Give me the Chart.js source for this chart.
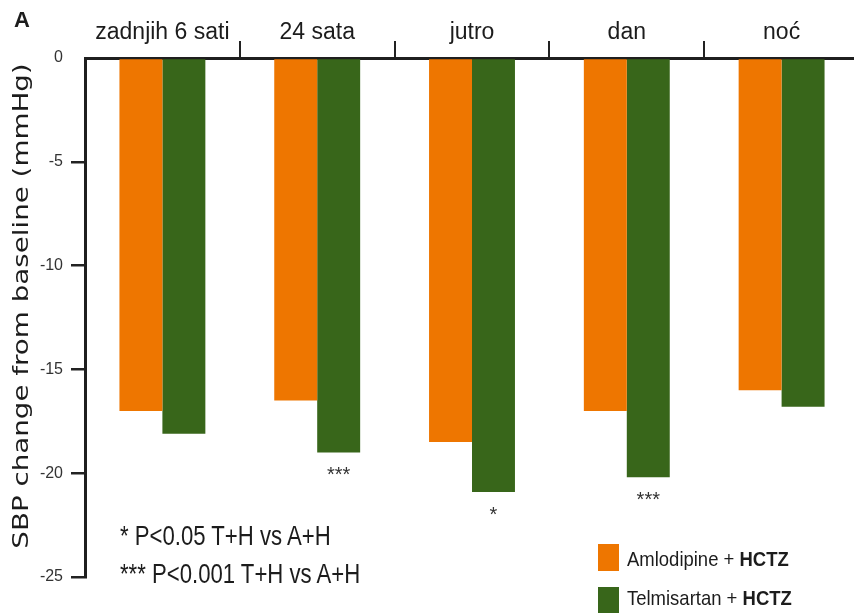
<!DOCTYPE html>
<html>
<head>
<meta charset="utf-8">
<script src="https://cdn.jsdelivr.net/npm/chart.js@4.4.1/dist/chart.umd.min.js"></script>
<style>
  html, body { margin: 0; padding: 0; background: #fff; }
  body { width: 854px; height: 613px; overflow: hidden; position: relative; }
  #wrap { position: absolute; left: 0; top: 0; width: 870px; height: 613px; }
  .txt { position: absolute; white-space: nowrap; line-height: 1; color: #1c1c1c;
         font-family: 'Liberation Sans', Arial, sans-serif; }
  .squeeze { transform-origin: 0 50%; }
  #panel { left: 14px; top: 9px; font-weight: bold; font-size: 22px; }
  #ytitle { left: 21px; top: 306px; font-size: 22px; font-family: 'DejaVu Sans', sans-serif;
            transform: translate(-50%, -50%) rotate(-90deg) scaleX(1.26); }
  .note { left: 120px; font-size: 27px; transform: scaleX(0.82); }
  .leg-box { position: absolute; left: 598px; width: 21px; height: 27px; }
  .leg-txt { left: 627px; font-size: 21px; transform: scaleX(0.88); }
  .leg-txt b { font-weight: bold; }
</style>
</head>
<body>
<div id="wrap"><canvas id="chart" width="870" height="613"></canvas></div>
<div class="txt" id="panel">A</div>
<div class="txt" id="ytitle">SBP change from baseline (mmHg)</div>
<div id="notes"></div>
<div id="legend"></div>

<script>
// ─── podaci ──────────────────────────────────────────────────────────
const categories = ['zadnjih 6 sati', '24 sata', 'jutro', 'dan', 'noć'];
const amlodipine = [-17, -16.5, -18.5, -17, -16];
const telmisartan = [-18.1, -19, -20.9, -20.2, -16.8];
const significance = ['', '***', '*', '***', ''];
const seriesLabels = ['Amlodipine + HCTZ', 'Telmisartan + HCTZ'];
const seriesColors = ['#EE7600', '#38661A'];
const notes = ['* P<0.05 T+H vs A+H', '*** P<0.001 T+H vs A+H'];
const yMin = -25, yMax = 0, yStep = 5;

const INK = '#1c1c1c';
const SANS = "'Liberation Sans', Arial, sans-serif";

// zvjezdice ispod zelenih stupaca
const starPlugin = {
  id: 'stars',
  afterDatasetsDraw(chart) {
    const meta = chart.getDatasetMeta(1);
    const ctx = chart.ctx;
    ctx.save();
    ctx.font = '20px ' + SANS;
    ctx.fillStyle = '#333';
    ctx.textAlign = 'center';
    ctx.textBaseline = 'alphabetic';
    meta.data.forEach((bar, i) => {
      if (significance[i]) ctx.fillText(significance[i], bar.x, bar.y + 29);
    });
    ctx.restore();
  },
};

const chart = new Chart(document.getElementById('chart').getContext('2d'), {
  type: 'bar',
  data: {
    labels: categories,
    datasets: [amlodipine, telmisartan].map((d, i) => ({
      label: seriesLabels[i], data: d, backgroundColor: seriesColors[i],
      barPercentage: 1, categoryPercentage: 0.555, borderWidth: 0,
    })),
  },
  options: {
    responsive: false, animation: false,
    layout: { padding: { top: 0, right: 11, bottom: 36, left: 0 } },
    plugins: { legend: { display: false }, tooltip: { enabled: false } },
    scales: {
      x: {
        position: 'top', z: 1, offset: true,
        grid: { offset: true, drawOnChartArea: false, tickLength: 17, lineWidth: 2,
                color: c => c.index === 0 ? 'rgba(0,0,0,0)' : '#222' },
        border: { color: '#1f1f1f', width: 3 },
        ticks: { font: { family: SANS, size: 23 }, color: INK,
                 padding: -5, maxRotation: 0, autoSkip: false },
        afterFit: s => { s.height = 58; },
      },
      y: {
        min: yMin, max: yMax, z: 1,
        ticks: { stepSize: yStep, font: { family: SANS, size: 16 }, color: '#333', padding: 8 },
        grid: { drawOnChartArea: false, tickLength: 14, lineWidth: 2.5,
                color: c => (c.tick && c.tick.value === 0) ? 'rgba(0,0,0,0)' : '#222' },
        border: { color: '#1f1f1f', width: 3 },
        afterFit: s => { s.width = 85; },
      },
    },
  },
  plugins: [starPlugin],
});

// napomene o značajnosti
const notesTop = [523, 561];
document.getElementById('notes').innerHTML = notes.map((n, i) =>
  `<div class="txt squeeze note" style="top:${notesTop[i]}px">${n.replace(/</g, '&lt;')}</div>`).join('');

// legenda iz skupova podataka
const legTop = [544, 587];
const legTxtTop = [548, 587];
document.getElementById('legend').innerHTML = chart.data.datasets.map((ds, i) => `
  <div class="leg-box" style="top:${legTop[i]}px;background:${ds.backgroundColor}"></div>
  <div class="txt squeeze leg-txt" style="top:${legTxtTop[i]}px">${ds.label.replace('HCTZ', '<b>HCTZ</b>')}</div>`).join('');
</script>
</body>
</html>
